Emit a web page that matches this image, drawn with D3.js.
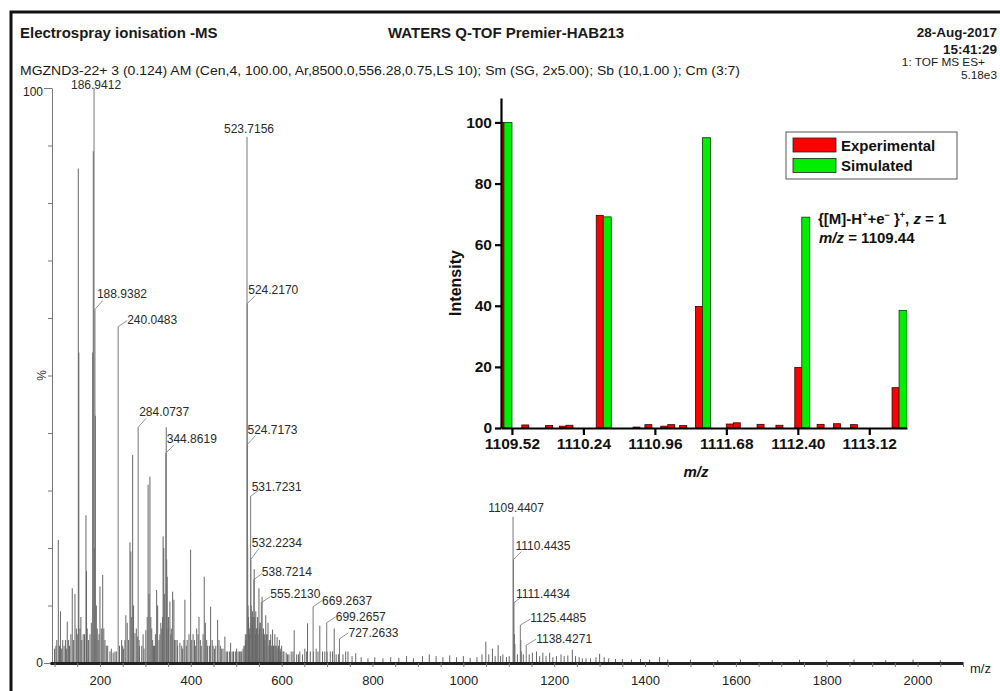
<!DOCTYPE html>
<html>
<head>
<meta charset="utf-8">
<script src="https://cdn.jsdelivr.net/npm/d3@7"></script>
<style>
    body { margin: 0; background: #fff; }
    svg text { font-family: Arial, "Liberation Sans", sans-serif; }
</style>
</head>
<body>
<div id="chart"></div>
<script>
// ---- data ----
// main spectrum, unlabelled peaks (m/z, % of base peak)
var peakMz = [100, 103, 105, 108.3, 111, 113, 115, 118, 121, 124, 126, 128, 131, 133, 136, 139, 142, 145,
    148, 150, 152.3, 153.5, 156, 158, 160, 163, 166, 169.2, 170.4, 172, 175, 178, 181, 184, 185.3, 187.9,
    189.9, 192, 194, 196, 198, 200, 203, 206, 208.5, 211, 214, 217, 222, 225, 229, 233, 236, 243, 247.7,
    250, 252, 255, 257, 260, 263, 266, 268, 270, 272, 274, 277, 280, 283, 286, 287, 292, 295, 297, 301,
    304, 306, 308, 310, 312, 314, 316, 318, 320, 322, 324.8, 327, 330, 332, 334, 336, 338, 339, 340.5,
    342.5, 345.9, 346.9, 348, 350, 351, 354, 356, 357, 360, 362.8, 364, 367, 370, 371, 376, 380, 382,
    385, 387, 390, 392, 396, 399.6, 402, 405, 408, 410, 413, 416, 418, 421, 423, 427, 429.6, 432, 435,
    437, 441, 443.6, 447, 449, 452, 455, 459, 462, 465, 468, 471, 475, 478, 481, 485, 487.6, 491, 494,
    498, 500.8, 504, 507, 510, 512, 515, 517, 519, 520, 521, 522, 523, 525.2, 526, 527, 528, 529, 530,
    531, 533, 534, 535, 536, 537, 538, 539.6, 541, 542, 543, 544, 545, 547, 548, 550, 551, 552, 554,
    556, 557, 559, 560, 562, 563, 565, 567, 568, 570, 572, 573, 575, 576, 578, 580, 582, 583, 585, 587,
    588, 590, 592, 593, 595, 597, 598, 600, 603, 605, 610, 613, 616, 621, 625, 627.6, 633, 637, 640,
    646, 651, 655, 657, 663, 670, 676, 680, 684, 690, 695, 700, 707, 712, 715.7, 720, 725, 735, 741,
    746, 755, 763, 775, 790, 805, 823, 840, 858, 875, 890, 910, 925, 940, 955, 970, 985, 1000, 1015,
    1030, 1041, 1049.5, 1056, 1064, 1070, 1076.6, 1082, 1087, 1095, 1101, 1112.44, 1113.44, 1119,
    1126.45, 1127.4, 1132, 1145, 1152, 1161, 1168, 1175, 1182, 1190, 1197, 1205, 1215, 1222, 1230,
    1240, 1247, 1255, 1262, 1270, 1280, 1292, 1300, 1310, 1320, 1335, 1350, 1370, 1390, 1410, 1432,
    1450, 1500, 1560, 1610, 1680, 1740, 1800, 1860, 1930, 1990, 2050];
var peakPct = [2.5, 3, 4, 21.4, 3, 9, 2.5, 4, 3, 4, 2.5, 7.2, 4, 3, 5, 13, 4, 12,
    6, 5, 86, 54, 6, 8, 4, 5, 5, 25.7, 16, 6, 4, 5, 7, 54, 89, 20,
    43, 10, 6, 4, 5, 13.3, 6, 15.3, 6, 4, 3, 3, 2, 2.5, 1.8, 2, 2, 3, 4,
    3, 2.5, 4, 8.3, 7, 4, 21, 19.4, 8, 36.2, 10, 5.2, 6, 4.6, 4, 3, 3, 5, 2.5, 5.7,
    8, 31, 12, 32.4, 8, 6, 4, 3, 3, 5, 12.7, 10, 4, 5, 7, 6, 8, 22, 20,
    12, 41, 18, 15, 6, 8, 10.7, 5, 6, 12.4, 11, 4, 4, 4, 3, 3.5, 3, 2.5,
    4, 11, 3, 4, 5, 19.7, 4, 5, 4, 3, 6, 5, 8, 4, 3, 5, 15, 7, 4,
    3, 3, 9.8, 4, 3, 2.5, 3, 7.5, 4, 3, 2.5, 2.5, 4.6, 2, 2, 2, 3.5, 2, 2,
    2, 2.5, 2, 2, 2, 2, 2.5, 3, 3, 5, 4, 4, 5, 20, 10, 8, 6, 5, 6,
    7, 10, 8, 6, 9, 7, 8, 16.3, 8, 5, 9, 6, 6, 8, 5, 13, 6, 7, 7,
    6, 11.5, 5, 6, 5, 4, 8.3, 5, 5, 7, 3, 4, 4, 5, 3, 5.8, 3, 3, 5, 3,
    3, 4.5, 2.5, 3, 4, 2, 2.5, 3, 2, 2, 1.8, 1.5, 1.5, 2, 2, 5.7, 1.5, 1.5, 2,
    1.5, 2.5, 2, 6.9, 2, 2, 2.5, 2, 6.5, 2, 2, 2, 2, 2, 6, 1.5, 1.5, 1.5, 2,
    2, 1.2, 1.7, 1, 0.8, 1, 0.8, 1, 0.9, 1.2, 0.8, 1.2, 1.5, 1.2, 1, 1.3, 1, 1.2, 0.9,
    1, 1.5, 3.7, 1.5, 2.5, 1.2, 3.1, 1.2, 1.5, 1, 1.2, 5, 3.3, 1.5,
    4, 2, 1.5, 1.5, 1.8, 2, 1.2, 1.8, 1.2, 1.8, 1, 1.2, 1.5, 1.2, 1.3,
    2.3, 1.2, 1, 0.8, 0.8, 0.8, 1, 1.6, 1, 0.8, 0.7, 0.7, 0.6, 0.7, 0.6, 1,
    0.6, 0.6, 0.5, 0.6, 0.5, 0.6, 0.5, 0.6, 0.5, 0.6, 0.5];

// labelled peaks
var labelText = ["186.9412", "188.9382", "240.0483", "284.0737", "344.8619", "523.7156", "524.2170",
    "524.7173", "531.7231", "532.2234", "538.7214", "555.2130", "669.2637", "699.2657", "727.2633",
    "1109.4407", "1110.4435", "1111.4434", "1125.4485", "1138.4271"];
var labelPct = [100, 61.5, 58.5, 41, 36.5, 91.5, 62.5, 38, 29, 18, 14.5, 10.5, 9.8, 7, 4.2,
    25.4, 18, 10.5, 6.6, 3.1];

var mainTicks = [200, 400, 600, 800, 1000, 1200, 1400, 1600, 1800, 2000];

// inset: isotope pattern
var expMz = [1109.44, 1109.69, 1109.93, 1110.07, 1110.135, 1110.44, 1110.81, 1110.93, 1111.09, 1111.16,
    1111.28, 1111.44, 1111.75, 1111.82, 1112.06, 1112.25, 1112.44, 1112.665, 1112.83, 1113.00, 1113.42];
var expInt = [100, 1.0, 0.8, 0.6, 0.9, 69.6, 0.3, 1.1, 0.6, 1.1,
    0.8, 39.8, 1.3, 1.7, 1.2, 0.9, 19.8, 1.2, 1.4, 1.1, 13.2];
var simMz = [1109.44, 1110.44, 1111.44, 1112.44, 1113.42];
var simInt = [100, 69.1, 95.0, 69.0, 38.5];
var insetTicks = [1109.52, 1110.24, 1110.96, 1111.68, 1112.40, 1113.12];
var insetYTicks = [0, 20, 40, 60, 80, 100];
var legendNames = ["Experimental", "Simulated"];

// ---- layout ----
const width = 1000;
const height = 691;
// label placement: [dx, dy above peak top, mode]
var labelPlace = [[2, -0.5, "c"], [2, 11, "l"], [9, 3, "l"], [1, 11, "l"], [1, 10, "l"], [2, 4, "c"],
    [1, 10, "l"], [0, 11, "l"], [1, 5, "l"], [1, 13, "l"], [8, 4, "l"], [9, 5, "l"], [9, 2, "l"],
    [9, 2, "l"], [9, 2, "l"], [3, 5, "c"], [2, 10, "l"], [2, 5, "l"], [10, 3, "l"], [10, 2, "l"]];
var barColors = ["#ff0000", "#00ee00"];

var svg = d3.select("#chart").append("svg")
    .attr("width", width).attr("height", height);

// page frame (right and bottom edges fall outside the scan)
svg.append("rect")
    .attr("x", 11).attr("y", 12)
    .attr("width", 1000).attr("height", 700)
    .attr("fill", "none").attr("stroke", "#111").attr("stroke-width", 3);

draw_header();
draw_spectrum();
draw_inset();

function draw_header() {
    var g = svg.append("g").attr("fill", "#1a1a1a");
    g.append("text").attr("x", 20).attr("y", 37.5)
        .attr("font-size", 15).attr("font-weight", "bold")
        .text("Electrospray ionisation -MS");
    g.append("text").attr("x", 388).attr("y", 37.5)
        .attr("font-size", 15).attr("font-weight", "bold")
        .text("WATERS Q-TOF Premier-HAB213");
    g.append("text").attr("x", 997).attr("y", 37).attr("text-anchor", "end")
        .attr("font-size", 13.5).attr("font-weight", "bold")
        .text("28-Aug-2017");
    g.append("text").attr("x", 997).attr("y", 53.5).attr("text-anchor", "end")
        .attr("font-size", 13.5).attr("font-weight", "bold")
        .text("15:41:29");
    g.append("text").attr("x", 20).attr("y", 74.5)
        .attr("font-size", 12.4)
        .attr("textLength", 720).attr("lengthAdjust", "spacingAndGlyphs")
        .text("MGZND3-22+ 3 (0.124) AM (Cen,4, 100.00, Ar,8500.0,556.28,0.75,LS 10); Sm (SG, 2x5.00); Sb (10,1.00 ); Cm (3:7)");
    g.append("text").attr("x", 985).attr("y", 66).attr("text-anchor", "end")
        .attr("font-size", 11.8)
        .text("1: TOF MS ES+");
    g.append("text").attr("x", 997).attr("y", 79).attr("text-anchor", "end")
        .attr("font-size", 11.8)
        .text("5.18e3");
}

function draw_spectrum() {
    var x = d3.scaleLinear().domain([90, 2100]).range([50, 963]);
    var y = d3.scaleLinear().domain([0, 100]).range([663, 88]);
    var g = svg.append("g").attr("id", "spectrum");

    // y axis
    var yAxis = g.append("g")
        .attr("transform", "translate(52,0)")
        .call(d3.axisLeft(y)
            .tickValues(d3.range(0, 101, 10))
            .tickSize(4)
            .tickSizeOuter(0)
            .tickFormat(function (d) {
                return (d === 0 || d === 100) ? d : "";
            }));
    yAxis.select(".domain").attr("stroke", "#777");
    yAxis.selectAll(".tick line").attr("stroke", "#777");
    yAxis.selectAll(".tick text").attr("font-size", 12).attr("fill", "#222")
        .attr("x", -9).attr("font-family", null);
    yAxis.selectAll(".tick").filter(function (d) { return d === 100; })
        .select("text").attr("dy", "0.6em");
    yAxis.selectAll(".tick").filter(function (d) { return d === 0 || d === 100; })
        .select("line").attr("x2", -8);

    g.append("text")
        .attr("transform", "translate(46," + y(50) + ") rotate(-90)")
        .attr("text-anchor", "middle").attr("font-size", 12).attr("fill", "#333")
        .text("%");

    // peaks
    g.append("g").selectAll(".peak")
        .data(peakMz)
        .enter()
        .append("line")
        .attr("class", "peak")
        .attr("x1", function (d) { return x(d); })
        .attr("x2", function (d) { return x(d); })
        .attr("y1", y(0))
        .attr("y2", function (d, i) { return y(peakPct[i]); })
        .attr("stroke", "#666")
        .attr("stroke-width", 1);

    g.append("g").selectAll(".lpeak")
        .data(labelText)
        .enter()
        .append("line")
        .attr("class", "lpeak")
        .attr("x1", function (d) { return x(+d); })
        .attr("x2", function (d) { return x(+d); })
        .attr("y1", y(0))
        .attr("y2", function (d, i) { return y(labelPct[i]); })
        .attr("stroke", "#777")
        .attr("stroke-width", 1);

    // x axis with noisy baseline
    var xAxis = g.append("g")
        .attr("transform", "translate(0," + y(0) + ")")
        .call(d3.axisBottom(x)
            .tickValues(d3.range(100, 2101, 50))
            .tickSize(4)
            .tickSizeOuter(0)
            .tickFormat(function (d) {
                return mainTicks.indexOf(d) >= 0 ? d : "";
            }));
    xAxis.select(".domain").attr("stroke", "#222").attr("stroke-width", 3);
    xAxis.selectAll(".tick line").attr("stroke", "#777");
    xAxis.selectAll(".tick text").attr("font-size", 13).attr("fill", "#222")
        .attr("font-family", null).attr("y", 13);

    g.append("text").attr("x", 970).attr("y", 673)
        .attr("font-size", 13).attr("fill", "#222").text("m/z");

    // peak labels
    var lab = g.append("g").attr("id", "peak_labels");
    labelText.forEach(function (t, i) {
        var px = x(+t), py = y(labelPct[i]);
        var p = labelPlace[i];
        var base = py - p[1];
        if (p[2] === "c") {
            lab.append("text").attr("x", px + p[0]).attr("y", base)
                .attr("text-anchor", "middle").attr("font-size", 12).attr("fill", "#2a2a2a")
                .text(t);
        } else {
            lab.append("line")
                .attr("x1", px).attr("y1", py)
                .attr("x2", px + Math.max(p[0], 8)).attr("y2", Math.min(base + 2, py - 6))
                .attr("stroke", "#777").attr("stroke-width", 0.8);
            lab.append("text").attr("x", px + p[0]).attr("y", base)
                .attr("font-size", 12).attr("fill", "#2a2a2a")
                .text(t);
        }
    });
}

function draw_inset() {
    var xi = d3.scaleLinear().domain([1109.41, 1113.50]).range([501, 907]);
    var yi = d3.scaleLinear().domain([0, 108]).range([428, 98]);
    var g = svg.append("g").attr("id", "inset");

    g.append("clipPath").attr("id", "inset_clip")
        .append("rect")
        .attr("x", xi.range()[0]).attr("y", yi.range()[1])
        .attr("width", xi.range()[1] - xi.range()[0])
        .attr("height", yi.range()[0] - yi.range()[1]);

    var bars = g.append("g").attr("clip-path", "url(#inset_clip)");
    //实验值在左，模拟值在右
    bars.selectAll(".exp")
        .data(expMz)
        .enter()
        .append("rect")
        .attr("class", "exp")
        .attr("x", function (d) { return xi(d) - 7; })
        .attr("width", 7)
        .attr("y", function (d, i) { return yi(expInt[i]); })
        .attr("height", function (d, i) { return yi(0) - yi(expInt[i]); })
        .attr("fill", barColors[0]).attr("stroke", "#3a0000").attr("stroke-width", 0.8);
    bars.selectAll(".sim")
        .data(simMz)
        .enter()
        .append("rect")
        .attr("class", "sim")
        .attr("x", function (d) { return xi(d); })
        .attr("width", 8)
        .attr("y", function (d, i) { return yi(simInt[i]); })
        .attr("height", function (d, i) { return yi(0) - yi(simInt[i]); })
        .attr("fill", barColors[1]).attr("stroke", "#063b06").attr("stroke-width", 0.8);

    var yAx = g.append("g")
        .attr("transform", "translate(" + xi.range()[0] + ",0)")
        .call(d3.axisLeft(yi).tickValues(insetYTicks).tickSize(6).tickSizeOuter(0).tickPadding(3));
    var xAx = g.append("g")
        .attr("transform", "translate(0," + yi(0) + ")")
        .call(d3.axisBottom(xi).tickValues(insetTicks).tickSize(7).tickSizeOuter(0).tickPadding(3)
            .tickFormat(d3.format(".2f")));
    [yAx, xAx].forEach(function (a) {
        a.select(".domain").attr("stroke", "#000").attr("stroke-width", 2.2);
        a.selectAll(".tick line").attr("stroke", "#000").attr("stroke-width", 2.2);
        a.selectAll(".tick text").attr("font-size", 15.5).attr("font-weight", "bold")
            .attr("fill", "#111").attr("font-family", null);
    });

    g.append("text")
        .attr("transform", "translate(461,283) rotate(-90)")
        .attr("text-anchor", "middle").attr("font-size", 16).attr("font-weight", "bold")
        .attr("fill", "#111").text("Intensity");
    g.append("text")
        .attr("x", 696).attr("y", 477).attr("text-anchor", "middle")
        .attr("font-size", 15).attr("font-weight", "bold").attr("font-style", "italic")
        .attr("fill", "#111").text("m/z");

    // legend
    var lg = g.append("g").attr("id", "legend");
    lg.append("rect").attr("x", 786).attr("y", 132).attr("width", 171).attr("height", 47)
        .attr("fill", "#fff").attr("stroke", "#555").attr("stroke-width", 1);
    legendNames.forEach(function (n, i) {
        lg.append("rect").attr("x", 793).attr("y", 138 + i * 20.5).attr("width", 43).attr("height", 14)
            .attr("fill", barColors[i]).attr("stroke", "#222").attr("stroke-width", 0.8);
        lg.append("text").attr("x", 841).attr("y", 150.5 + i * 20.5)
            .attr("font-size", 15).attr("font-weight", "bold").attr("fill", "#111").text(n);
    });

    // ion annotation
    var t1 = g.append("text").attr("x", 818).attr("y", 224)
        .attr("font-size", 15).attr("font-weight", "bold").attr("fill", "#111");
    t1.append("tspan").text("{[M]-H");
    t1.append("tspan").attr("dy", -6).attr("font-size", 9).text("+");
    t1.append("tspan").attr("dy", 6).text("+e");
    t1.append("tspan").attr("dy", -6).attr("font-size", 9).text("\u2212");
    t1.append("tspan").attr("dy", 6).text(" }");
    t1.append("tspan").attr("dy", -6).attr("font-size", 9).text("+");
    t1.append("tspan").attr("dy", 6).text(", ");
    t1.append("tspan").attr("font-style", "italic").text("z");
    t1.append("tspan").text(" = 1");

    var t2 = g.append("text").attr("x", 819).attr("y", 243)
        .attr("font-size", 15).attr("font-weight", "bold").attr("fill", "#111");
    t2.append("tspan").attr("font-style", "italic").text("m/z");
    t2.append("tspan").text(" = 1109.44");
}
</script>
</body>
</html>
